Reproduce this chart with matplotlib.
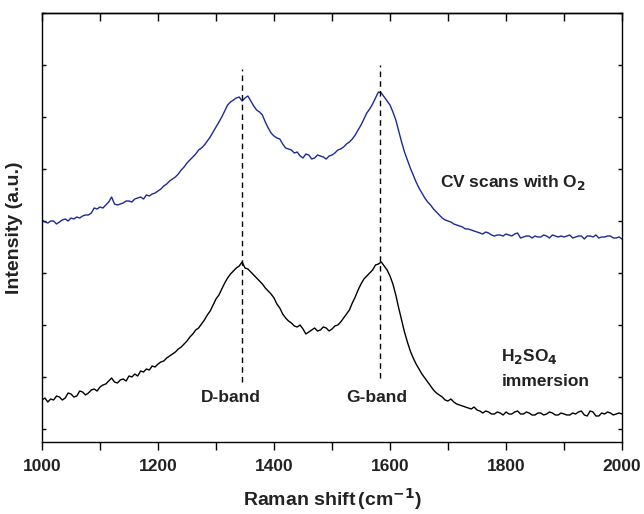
import matplotlib
matplotlib.use("Agg")
import matplotlib.pyplot as plt
import numpy as np

plt.rcParams['font.family'] = ['Liberation Sans', 'DejaVu Sans']

# Raman shift grid (cm^-1), 5 cm^-1 sampling
raman_shift = np.arange(1000, 2001, 5)

# Intensity (a.u.) of the H2SO4 immersion spectrum (one row per 100 cm^-1)
int_h2so4 = [
    42, 44, 40, 43, 42, 46, 45, 42, 44, 49, 48, 45, 46, 51, 50, 47, 49, 52, 53, 51,
    55, 57, 58, 61, 64, 60, 59, 62, 63, 61, 66, 65, 68, 66, 71, 70, 73, 72, 76, 75,
    78, 80, 81, 84, 86, 88, 90, 93, 95, 98, 101, 105, 108, 112, 114, 118, 122, 127, 131, 137,
    143, 147, 153, 159, 164, 168, 171, 174, 176, 180, 174, 173, 170, 167, 164, 161, 158, 154, 151, 148,
    144, 138, 134, 128, 124, 121, 119, 116, 115, 117, 113, 108, 110, 112, 114, 111, 112, 115, 114, 111,
    113, 116, 117, 120, 124, 128, 132, 139, 145, 152, 158, 163, 166, 169, 172, 177, 178, 180, 176, 172,
    166, 158, 147, 134, 122, 110, 100, 91, 84, 78, 73, 68, 64, 60, 56, 52, 49, 47, 45, 42,
    41, 43, 40, 38, 37, 36, 35, 34, 33, 35, 32, 31, 29, 31, 30, 28, 28, 30, 29, 27,
    30, 28, 28, 30, 31, 28, 28, 30, 29, 27, 27, 29, 29, 27, 28, 30, 29, 27, 27, 29,
    28, 27, 27, 29, 28, 30, 31, 27, 26, 31, 30, 26, 26, 29, 28, 30, 29, 27, 28, 29,
    28]

# Intensity (a.u.) of the spectrum after CV scans with O2
int_cv = [
    222, 220, 219, 221, 221, 218, 220, 222, 223, 221, 224, 223, 225, 224, 226, 227, 227, 229, 234, 233,
    235, 234, 237, 240, 245, 238, 237, 238, 239, 241, 241, 240, 243, 244, 245, 243, 247, 246, 248, 249,
    251, 253, 256, 258, 261, 263, 265, 268, 272, 275, 279, 282, 285, 288, 292, 294, 297, 301, 305, 310,
    315, 320, 325, 331, 337, 340, 342, 344, 345, 341, 344, 346, 341, 336, 332, 330, 327, 320, 314, 309,
    306, 304, 303, 298, 294, 293, 292, 289, 290, 286, 284, 288, 287, 283, 284, 287, 286, 285, 283, 286,
    287, 289, 292, 293, 295, 298, 300, 303, 307, 312, 317, 323, 329, 333, 338, 344, 350, 349, 345, 341,
    337, 330, 322, 311, 300, 290, 282, 274, 267, 260, 254, 249, 244, 240, 237, 233, 230, 227, 224, 222,
    221, 220, 218, 217, 216, 215, 213, 213, 212, 211, 210, 209, 208, 210, 209, 207, 206, 207, 207, 206,
    208, 207, 206, 208, 209, 204, 205, 206, 206, 204, 206, 205, 205, 207, 206, 204, 207, 206, 205, 206,
    205, 206, 207, 204, 205, 206, 206, 203, 206, 206, 205, 207, 204, 205, 205, 206, 206, 204, 204, 205,
    203]

band_positions = [1344, 1582]
band_labels = ["D-band", "G-band"]

fig = plt.figure(figsize=(6.44, 5.14), dpi=100)
ax = fig.add_axes([42/644, 1 - 442/514, 580/644, 429/514])

ax.plot(raman_shift, int_h2so4, color='black', lw=1.0)
ax.plot(raman_shift, int_cv, color='#1c2a96', lw=1.0)

# dashed band markers
ax.vlines(band_positions[0], 60, 373, colors='black', linestyles=(0, (4, 3)), lw=1.0)
ax.vlines(band_positions[1], 64, 377, colors='black', linestyles=(0, (4, 3)), lw=1.0)

tkw = dict(fontsize=12.5, fontweight='bold', color='#222222')
ax.text(1325, 45, band_labels[0], ha='center', va='center', **tkw)
ax.text(1577, 44, band_labels[1], ha='center', va='center', **tkw)
ax.text(1686, 259, r"CV scans with O$_\mathbf{2}$", ha='left', va='center', **tkw)
ax.text(1792, 85, r"H$_\mathbf{2}$SO$_\mathbf{4}$", ha='left', va='center', **tkw)
ax.text(1792, 60, "immersion", ha='left', va='center', **tkw)

ax.set_xlim(1000, 2000)
ax.set_ylim(0, 429)
ax.set_xticks(np.arange(1000, 2001, 200))
ax.set_xticks(np.arange(1100, 2000, 200), minor=True)
ax.set_yticks(np.arange(13, 430, 52))
ax.set_yticklabels([])
ax.tick_params(axis='x', which='both', direction='out', length=6, width=1, top=False)
ax.tick_params(axis='y', which='both', direction='in', length=3, width=1, left=True, right=True)
for lab in ax.get_xticklabels():
    lab.set_fontweight('bold')
    lab.set_fontsize(12.5)
    lab.set_color('#222222')
ax.tick_params(axis='x', pad=6)

sec = ax.secondary_xaxis('top')
sec.set_xticks(np.arange(1000, 2001, 100))
sec.tick_params(axis='x', which='both', direction='in', length=6, width=1, labeltop=False)

for sp in ax.spines.values():
    sp.set_linewidth(1.0)
sec.spines['top'].set_linewidth(1.0)

ax.set_xlabel(r"Raman shift$\,$(cm$^{\mathbf{-1}}$)", fontsize=14, fontweight='bold', color='#222222', labelpad=9)
ax.set_ylabel("Intensity (a.u.)", fontsize=14, fontweight='bold', color='#222222', labelpad=10)

fig.savefig("out.png", dpi=100)
